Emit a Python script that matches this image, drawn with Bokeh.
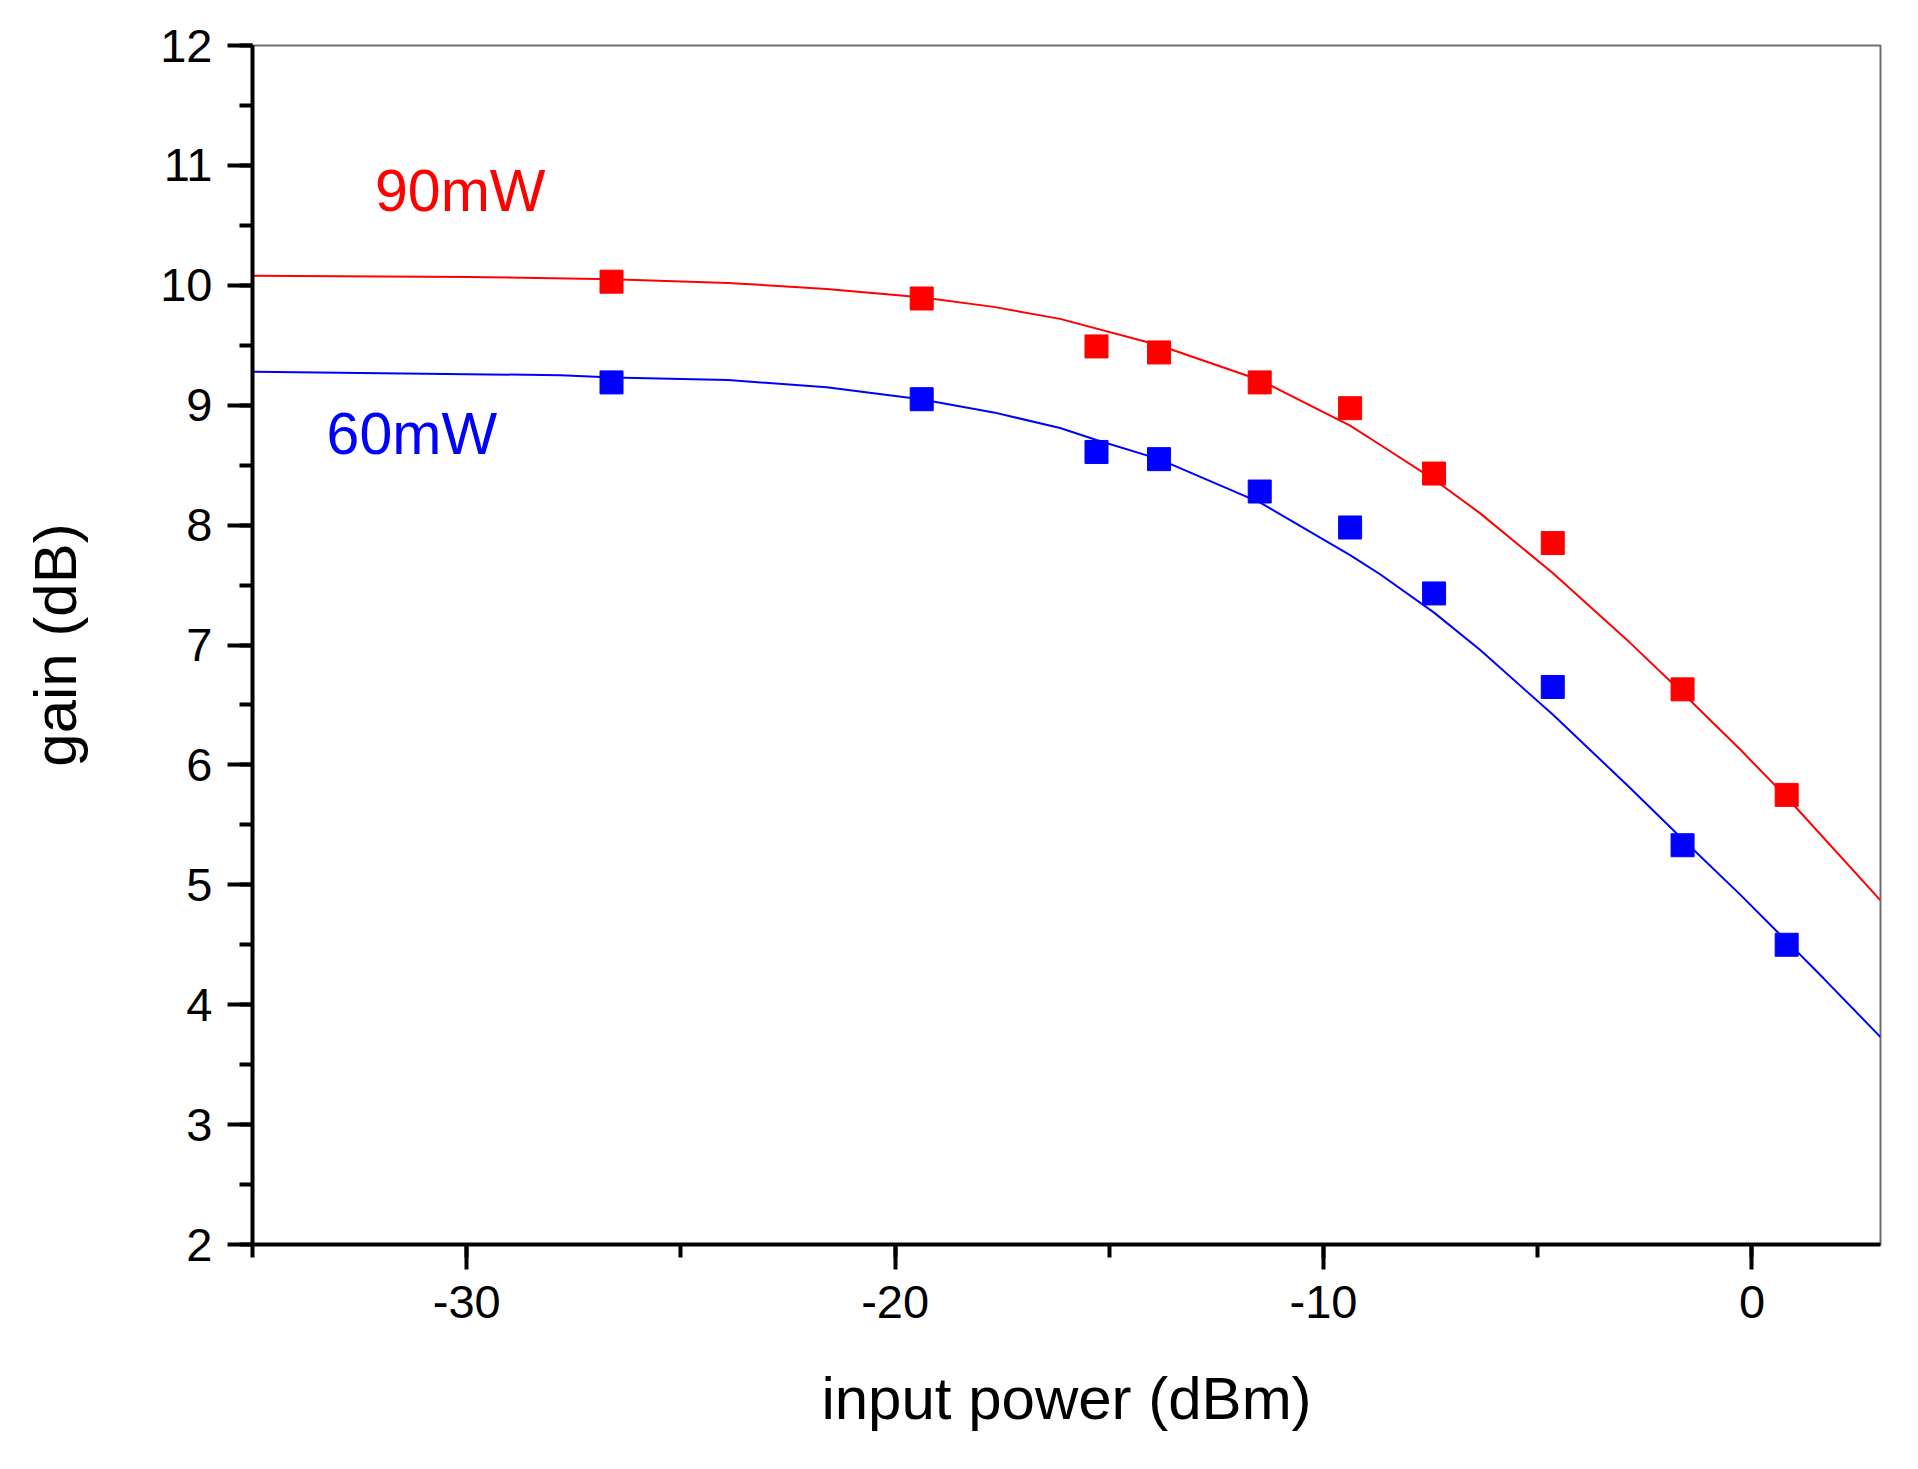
from bokeh.plotting import figure
from bokeh.models import Range1d, SingleIntervalTicker, Label, CustomJSTickFormatter
from bokeh.embed import file_html
from bokeh.resources import INLINE

# measured points (input power in dBm, gain in dB)
x_pts = [-26.62, -19.38, -15.30, -13.84, -11.49, -9.38, -7.42, -4.65, -1.62, 0.81]
gain_90 = [10.03, 9.89, 9.49, 9.44, 9.19, 8.975, 8.43, 7.85, 6.63, 5.75]
gain_60 = [9.19, 9.05, 8.61, 8.55, 8.28, 7.98, 7.43, 6.65, 5.33, 4.50]

# fitted curves
fit_x_90 = [-35, -30, -26.6, -23.9, -21.6, -19.4, -17.7, -16.15, -13.84, -11.49,
            -9.38, -8.68, -7.42, -6.35, -4.65, -2.85, -1.62, -0.28, 0.81, 3.0]
fit_y_90 = [10.08, 10.07, 10.05, 10.02, 9.97, 9.90, 9.82, 9.72, 9.50, 9.21,
            8.83, 8.67, 8.38, 8.10, 7.60, 7.02, 6.60, 6.13, 5.73, 4.87]
fit_x_60 = [-35, -27.8, -26.6, -23.9, -21.6, -19.4, -17.7, -16.15, -15.3, -13.84,
            -11.49, -9.38, -8.68, -7.42, -6.35, -4.65, -2.85, -1.62, -0.28, 0.81, 1.67, 3.0]
fit_y_60 = [9.28, 9.25, 9.23, 9.21, 9.15, 9.05, 8.94, 8.81, 8.71, 8.55,
            8.19, 7.75, 7.59, 7.27, 6.96, 6.42, 5.81, 5.38, 4.92, 4.53, 4.22, 3.73]

FONT = "Liberation Sans"

p = figure(frame_width=1628, frame_height=1199,
           min_border_left=252, min_border_top=45, min_border_right=15, min_border_bottom=190,
           x_range=Range1d(-35, 3), y_range=Range1d(2, 12),
           output_backend="svg", toolbar_location=None)

p.grid.visible = False
p.outline_line_color = "#6e6e6e"
p.outline_line_width = 2
p.background_fill_color = "white"
p.border_fill_color = "white"

p.line(fit_x_90, fit_y_90, line_color="red", line_width=2)
p.line(fit_x_60, fit_y_60, line_color="blue", line_width=2)
p.scatter(x_pts, gain_90, marker="square", size=23, fill_color="red", line_color="red")
p.scatter(x_pts, gain_60, marker="square", size=23, fill_color="blue", line_color="blue")

p.xaxis.ticker = SingleIntervalTicker(interval=10, num_minor_ticks=2)
p.yaxis.ticker = SingleIntervalTicker(interval=1, num_minor_ticks=2)

for ax in (p.xaxis[0], p.yaxis[0]):
    ax.formatter = CustomJSTickFormatter(code="return tick.toFixed(0)")
    ax.axis_line_color = "black"
    ax.axis_line_width = 4
    ax.major_tick_line_color = "black"
    ax.major_tick_line_width = 4
    ax.minor_tick_line_color = "black"
    ax.minor_tick_line_width = 4
    ax.major_tick_out = 25
    ax.major_tick_in = 0
    ax.minor_tick_out = 13
    ax.minor_tick_in = 0
    ax.major_label_text_font = FONT
    ax.major_label_text_font_size = "47px"
    ax.major_label_text_color = "black"
    ax.axis_label_text_font = FONT
    ax.axis_label_text_font_style = "normal"
    ax.axis_label_text_font_size = "60px"
    ax.axis_label_text_color = "black"

p.xaxis.axis_label = "input power (dBm)"
p.yaxis.axis_label = "gain (dB)"
p.xaxis.major_label_standoff = 16
p.yaxis.major_label_standoff = 15
p.xaxis.axis_label_standoff = 44
p.yaxis.axis_label_standoff = 68

p.add_layout(Label(x=-32.14, y=10.79, text="90mW", text_color="red",
                   text_font=FONT, text_font_size="59px", text_baseline="alphabetic"))
p.add_layout(Label(x=-33.27, y=8.76, text="60mW", text_color="blue",
                   text_font=FONT, text_font_size="59px", text_baseline="alphabetic"))

open("out.html", "w").write(file_html(p, INLINE))
